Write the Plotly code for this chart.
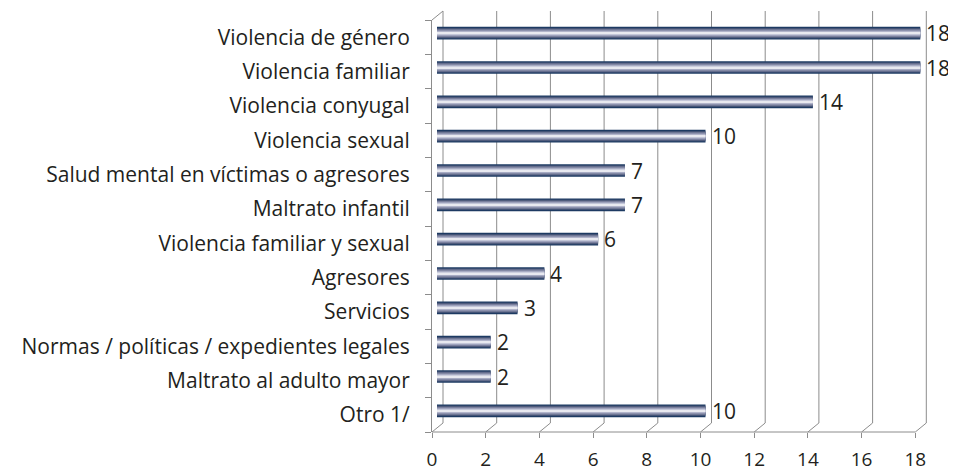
import plotly.graph_objects as go

# data, top to bottom as in the chart
categories = [
    "Violencia de género",
    "Violencia familiar",
    "Violencia conyugal",
    "Violencia sexual",
    "Salud mental en víctimas o agresores",
    "Maltrato infantil",
    "Violencia familiar y sexual",
    "Agresores",
    "Servicios",
    "Normas / políticas / expedientes legales",
    "Maltrato al adulto mayor",
    "Otro 1/",
]
values = [18, 18, 14, 10, 7, 7, 6, 4, 3, 2, 2, 10]
x_ticks = [0, 2, 4, 6, 8, 10, 12, 14, 16, 18]

# the page body adds an 8px margin, so the figure is drawn 8px smaller
PAGE_OFF = 8
W, H = 956 - PAGE_OFF, 471 - PAGE_OFF
M_L, M_R, M_T, M_B = 432 - PAGE_OFF, 6, 20 - PAGE_OFF, 39
PX_PER_UNIT = 26.85
plot_w = W - M_L - M_R
plot_h = H - M_T - M_B
x_max = plot_w / PX_PER_UNIT
BAR_DX = 5 / PX_PER_UNIT        # bars sit a bit behind the front plane
BACK_DX = 11 / PX_PER_UNIT      # back wall offset
BACK_DY = 9 / plot_h
BAR_DY = 4 / (plot_h / len(categories))

GRID = "#8c8c8c"
TEXT = "#231f20"
FONT = "Open Sans"

cat_order = categories[::-1]

# cylinder look: stacked bars of shrinking width, dark edge -> light core
layers = [
    (0.37, "#1d3a62"),
    (0.29, "#4f5b7c"),
    (0.23, "#7a809e"),
    (0.16, "#9ea2bc"),
    (0.10, "#c3c6d8"),
    (0.04, "#e8e9f0"),
]

fig = go.Figure()
for w, col in layers:
    fig.add_trace(go.Bar(
        y=categories,
        x=values,
        orientation="h",
        width=w,
        marker=dict(color=col, line=dict(width=0)),
        xaxis="x2",
        yaxis="y2",
        hoverinfo="skip",
        showlegend=False,
    ))

# value labels just past the bar ends
annotations = []
for cat, v in zip(categories, values):
    annotations.append(dict(
        xref="x2", yref="y2", x=v, y=cat,
        text=str(v), showarrow=False,
        xanchor="left", yanchor="middle", xshift=4,
        font=dict(family=FONT, size=21, color=TEXT),
    ))

shapes = []
for v in x_ticks:
    # back wall gridlines
    shapes.append(dict(type="line", xref="x", yref="paper",
                       x0=v + BACK_DX, x1=v + BACK_DX, y0=BACK_DY, y1=1 + BACK_DY,
                       line=dict(color=GRID, width=1), layer="below"))
    # floor diagonals
    shapes.append(dict(type="line", xref="x", yref="paper",
                       x0=v, x1=v + BACK_DX, y0=0, y1=BACK_DY,
                       line=dict(color=GRID, width=1), layer="below"))
# front axis line
shapes.append(dict(type="line", xref="x", yref="paper",
                   x0=x_ticks[0], x1=x_ticks[-1], y0=0, y1=0,
                   line=dict(color=GRID, width=1)))
# top-left diagonal of the side wall
shapes.append(dict(type="line", xref="x", yref="paper",
                   x0=0, x1=BACK_DX, y0=1, y1=1 + BACK_DY,
                   line=dict(color=GRID, width=1)))

fig.update_layout(
    width=W, height=H,
    margin=dict(l=M_L, r=M_R, t=M_T, b=M_B),
    paper_bgcolor="white",
    plot_bgcolor="rgba(0,0,0,0)",
    barmode="overlay",
    font=dict(family=FONT, size=21, color=TEXT),
    shapes=shapes,
    annotations=annotations,
    xaxis=dict(
        range=[0, x_max],
        tickvals=x_ticks,
        ticks="outside", ticklen=5, tickcolor=GRID,
        showline=False, showgrid=False, zeroline=False,
        tickfont=dict(family=FONT, size=19, color=TEXT),
        ticklabelstandoff=5,
        automargin=False,
    ),
    yaxis=dict(
        type="category",
        categoryorder="array", categoryarray=cat_order,
        range=[-0.5, len(categories) - 0.5],
        showline=True, linecolor=GRID, linewidth=1,
        ticks="outside", ticklen=6, tickcolor=GRID,
        tickson="boundaries",
        showgrid=False, zeroline=False,
        tickfont=dict(family=FONT, size=21, color=TEXT),
        ticklabelstandoff=17,
        automargin=False,
    ),
    xaxis2=dict(
        overlaying="x", anchor="y2",
        range=[-BAR_DX, x_max - BAR_DX],
        visible=False,
    ),
    yaxis2=dict(
        overlaying="y", anchor="x2",
        type="category",
        categoryorder="array", categoryarray=cat_order,
        range=[-0.5 - BAR_DY, len(categories) - 0.5 - BAR_DY],
        visible=False,
    ),
)

fig.write_html("out.html")
